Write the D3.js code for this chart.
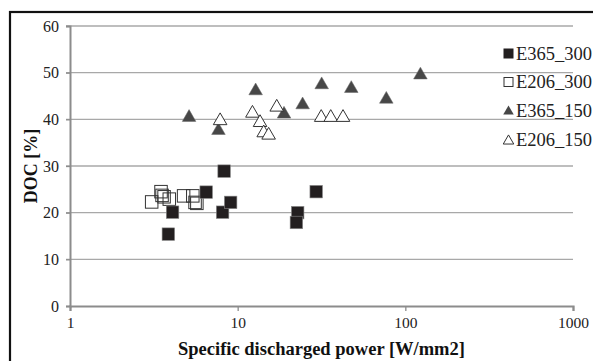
<!DOCTYPE html>
<html><head><meta charset="utf-8">
<script src="https://cdn.jsdelivr.net/npm/d3@7"></script>
<style>html,body{margin:0;padding:0;background:#fff;}svg{display:block;}</style>
</head><body>
<script>
// ---- data ----
const xTicks = [1, 10, 100, 1000];
const yTicks = [0, 10, 20, 30, 40, 50, 60];
const seriesNames = ["E365_300", "E206_300", "E365_150", "E206_150"];

const e365_300_x = [3.86, 4.09, 6.49, 8.3, 8.13, 9.08, 22.8, 22.4, 29.4];
const e365_300_y = [15.4, 20.1, 24.4, 28.9, 20.1, 22.2, 20.0, 17.9, 24.5];

const e206_300_x = [3.07, 3.49, 3.54, 3.64, 3.91, 4.76, 5.4, 5.57, 5.71];
const e206_300_y = [22.3, 24.5, 23.7, 23.4, 22.9, 23.6, 23.6, 22.2, 22.0];

const e365_150_x = [5.13, 7.68, 12.8, 18.9, 24.4, 31.7, 47.6, 77.0, 123];
const e365_150_y = [40.4, 37.6, 46.1, 41.1, 43.1, 47.4, 46.6, 44.3, 49.5];

const e206_150_x = [7.86, 12.25, 13.6, 14.3, 15.3, 17.1, 31.5, 35.9, 42.5];
const e206_150_y = [39.7, 41.3, 39.3, 37.1, 36.6, 42.6, 40.4, 40.4, 40.4];

// ---- chart ----
const W = 593, H = 361;
const svg = d3.select("body").append("svg").attr("width", W).attr("height", H);
const font = "Liberation Serif, Tinos, Times New Roman, serif";

// outer frame
svg.append("rect").attr("x", 10).attr("y", 12).attr("width", 620).attr("height", 400)
  .attr("fill", "none").attr("stroke", "#111").attr("stroke-width", 2.2);

const x = d3.scaleLog().domain([1, 1000]).range([70, 573]);
const y = d3.scaleLinear().domain([0, 60]).range([306, 26]);

// gridlines
svg.append("g").selectAll("line").data(yTicks.filter(d => d > 0)).join("line")
  .attr("x1", 66).attr("x2", 573)
  .attr("y1", d => y(d)).attr("y2", d => y(d))
  .attr("stroke", "#a8a8a8").attr("stroke-width", 1.3);

// y axis
const yAxis = svg.append("g").attr("transform", "translate(70,0)")
  .call(d3.axisLeft(y).tickValues(yTicks).tickSize(4).tickPadding(7).tickFormat(d3.format("d")));
yAxis.select(".domain").attr("stroke", "#8c8c8c").attr("stroke-width", 2);
yAxis.selectAll(".tick line").attr("stroke", "#8c8c8c").attr("stroke-width", 1.3);
yAxis.selectAll("text").attr("font-family", font).attr("font-size", 16).attr("fill", "#222");

// x axis
const xAxis = svg.append("g").attr("transform", "translate(0,306)")
  .call(d3.axisBottom(x).tickValues(xTicks).tickSize(5).tickPadding(6).tickFormat(d3.format("d")));
xAxis.select(".domain").attr("stroke", "#8c8c8c").attr("stroke-width", 2.2);
xAxis.selectAll(".tick line").attr("stroke", "#8c8c8c").attr("stroke-width", 1.3);
xAxis.selectAll("text").attr("font-family", font).attr("font-size", 15.5).attr("fill", "#222");

// axis titles
svg.append("text").attr("x", 321.5).attr("y", 355).attr("text-anchor", "middle")
  .attr("font-family", font).attr("font-weight", "bold").attr("font-size", 18.5).attr("fill", "#111")
  .text("Specific discharged power [W/mm2]");
svg.append("text").attr("transform", "translate(37,166) rotate(-90)").attr("text-anchor", "middle")
  .attr("font-family", font).attr("font-weight", "bold").attr("font-size", 18).attr("fill", "#111")
  .text("DOC [%]");

const zip = (xs, ys) => xs.map((v, i) => [v, ys[i]]);
const sq = 12.5;
const tri = d3.symbol().type(d3.symbolTriangle).size(80);

// E206_300 open squares
svg.append("g").selectAll("rect").data(zip(e206_300_x, e206_300_y)).join("rect")
  .attr("x", d => x(d[0]) - sq / 2).attr("y", d => y(d[1]) - sq / 2)
  .attr("width", sq).attr("height", sq)
  .attr("fill", "none").attr("stroke", "#333").attr("stroke-width", 1);

// E365_300 filled squares
svg.append("g").selectAll("rect").data(zip(e365_300_x, e365_300_y)).join("rect")
  .attr("x", d => x(d[0]) - sq / 2).attr("y", d => y(d[1]) - sq / 2)
  .attr("width", sq).attr("height", sq)
  .attr("fill", "#231f20").attr("stroke", "#888").attr("stroke-width", 0.6);

// E365_150 filled triangles
svg.append("g").selectAll("path").data(zip(e365_150_x, e365_150_y)).join("path")
  .attr("d", tri).attr("transform", d => `translate(${x(d[0])},${y(d[1])})`)
  .attr("fill", "#474747").attr("stroke", "#666").attr("stroke-width", 0.5);

// E206_150 open triangles
svg.append("g").selectAll("path").data(zip(e206_150_x, e206_150_y)).join("path")
  .attr("d", tri).attr("transform", d => `translate(${x(d[0])},${y(d[1])})`)
  .attr("fill", "#fff").attr("stroke", "#333").attr("stroke-width", 1);

// legend
const legY = [53.5, 82, 110.5, 140];
const lg = svg.append("g");
seriesNames.forEach((name, i) => {
  const cy = legY[i], cx = 508.5;
  if (i === 0) lg.append("rect").attr("x", cx - 5).attr("y", cy - 5).attr("width", 10).attr("height", 10).attr("fill", "#231f20");
  if (i === 1) lg.append("rect").attr("x", cx - 4.5).attr("y", cy - 4.5).attr("width", 9).attr("height", 9).attr("fill", "#fff").attr("stroke", "#333").attr("stroke-width", 1);
  if (i === 2) lg.append("path").attr("d", d3.symbol().type(d3.symbolTriangle).size(48)()).attr("transform", `translate(${cx},${cy + 1})`).attr("fill", "#474747");
  if (i === 3) lg.append("path").attr("d", d3.symbol().type(d3.symbolTriangle).size(48)()).attr("transform", `translate(${cx},${cy + 1})`).attr("fill", "#fff").attr("stroke", "#333").attr("stroke-width", 1);
  lg.append("text").attr("x", 516).attr("y", cy).attr("dy", "0.35em")
    .attr("font-family", font).attr("font-size", 18.5).attr("fill", "#222").text(name);
});
</script>
</body></html>
